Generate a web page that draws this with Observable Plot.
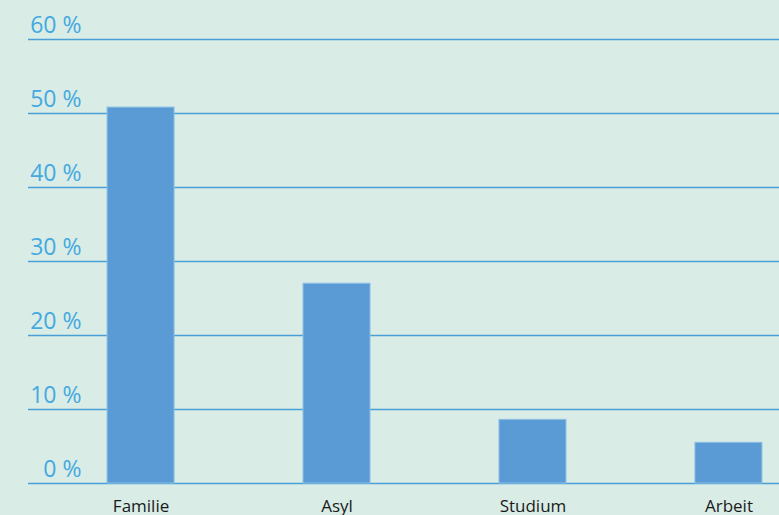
<!DOCTYPE html>
<html>
<head>
<meta charset="utf-8">
<script src="https://cdn.jsdelivr.net/npm/d3@7"></script>
<script src="https://cdn.jsdelivr.net/npm/@observablehq/plot@0.6"></script>
<style>
  html, body { margin: 0; padding: 0; background: #d9ece6; }
  #chart svg { display: block; }
</style>
</head>
<body>
<div id="chart"></div>
<script>
const categories = ["Familie", "Asyl", "Studium", "Arbeit"];
const values = [50.8, 27.0, 8.6, 5.5];
const yTicks = [0, 10, 20, 30, 40, 50, 60];

const data = categories.map((c, i) => ({category: c, value: values[i]}));

const chart = Plot.plot({
  width: 779,
  height: 515,
  marginTop: 0,
  marginBottom: 32,
  marginLeft: 28,
  marginRight: 0,
  style: {background: "#d9ece6", fontFamily: "Open Sans", overflow: "visible"},
  x: {type: "band", domain: categories, range: [90, 779], paddingInner: 0.658, paddingOuter: 0.087, round: false, label: null},
  y: {domain: [0, 60], range: [483, 39], label: null},
  marks: [
    Plot.ruleY(yTicks, {stroke: "#4a9fd6", strokeWidth: 1.3}),
    Plot.barY(data, {x: "category", y: "value", fill: "#5b9bd5", stroke: "#8fc0e4", strokeWidth: 1}),
    Plot.axisY(yTicks, {tickSize: 0, tickPadding: 0, dx: 53, dy: -14, tickFormat: d => d + " %", fontSize: 23, fill: "#45a9e0", label: null}),
    Plot.axisX({tickSize: 0, tickPadding: 16, fontSize: 17, fill: "#1a1a1a", label: null})
  ]
});
document.getElementById("chart").appendChild(chart);
</script>
</body>
</html>
